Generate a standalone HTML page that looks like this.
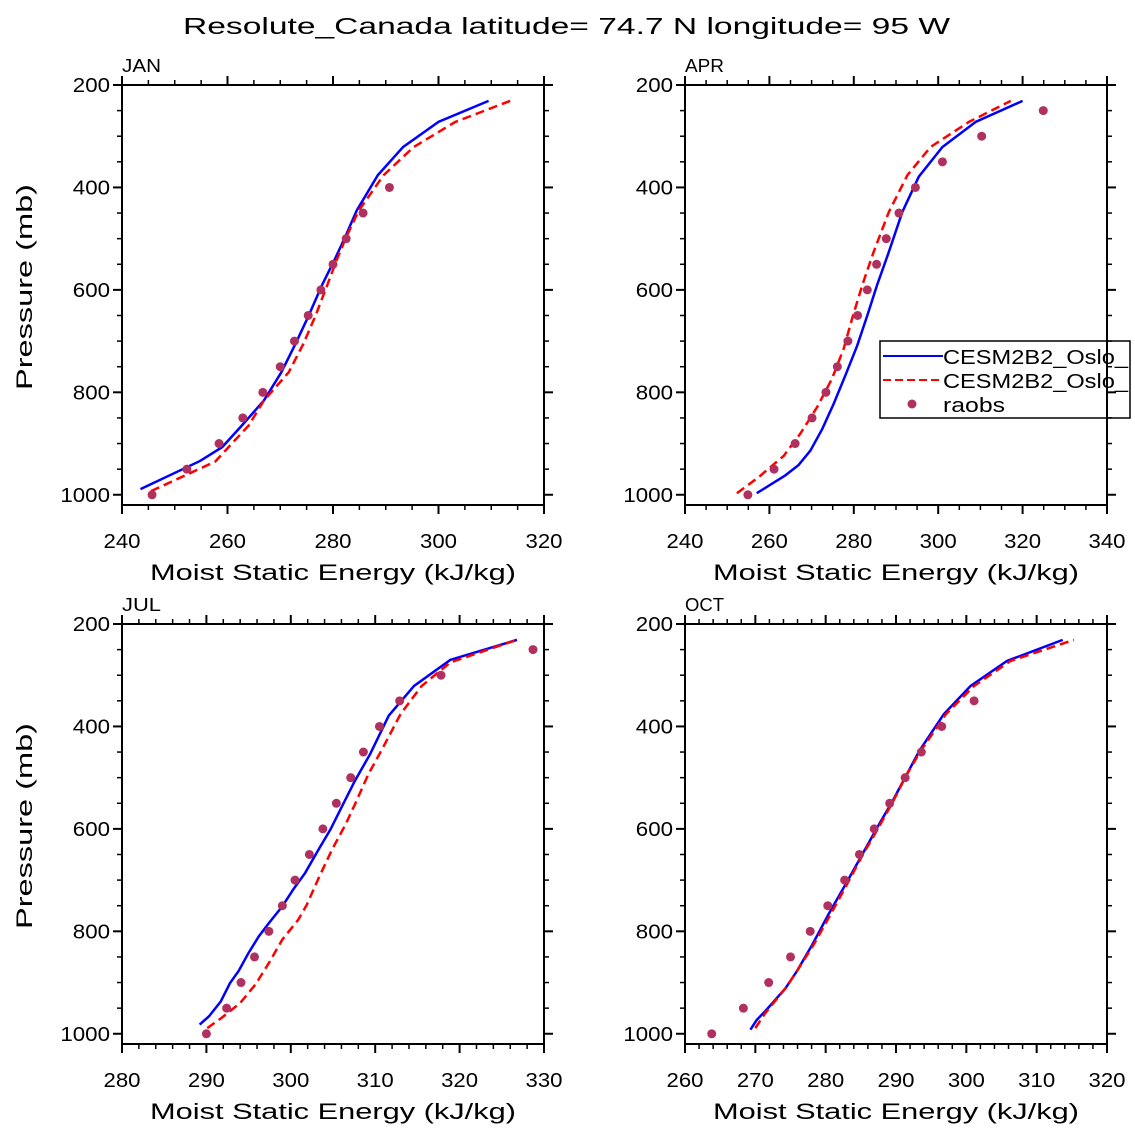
<!DOCTYPE html>
<html><head><meta charset="utf-8"><style>
html,body{margin:0;padding:0;background:#fff;}
svg{display:block;font-family:"Liberation Sans",sans-serif;}
</style></head><body>
<svg id="chart" width="1135" height="1135" viewBox="0 0 1135 1135" xmlns="http://www.w3.org/2000/svg">
<text x="183" y="34" font-size="23" textLength="767" lengthAdjust="spacingAndGlyphs" fill="#000">Resolute_Canada  latitude= 74.7 N longitude= 95 W</text>
</svg>
<script>
const months = ["JAN","APR","JUL","OCT"];
const obsLevels = [1000,950,900,850,800,750,700,650,600,550,500,450,400,350,300,250];
const janObs = [245.7,252.3,258.4,262.9,266.7,270,272.7,275.3,277.7,280,282.5,285.7,290.7];
const aprObs = [254.9,261.1,266.1,270.1,273.4,276.1,278.6,280.9,283.2,285.4,287.7,290.7,294.6,301,310.3,324.9];
const julObs = [290,292.4,294.1,295.7,297.4,299,300.5,302.2,303.8,305.4,307.1,308.6,310.5,312.9,317.8,328.7];
const octObs = [263.8,268.3,271.9,275,277.8,280.3,282.7,284.8,286.9,289.1,291.3,293.6,296.5,301.1];

const janBlueP = [989,934,907,865,816,761,705,650,591,539,497,445,376,321,272,231];
const janBlue = [243.5,254.8,259,262.7,266.9,270.2,272.9,275.4,277.9,280.4,282.3,284.5,288.5,293.3,300,309.5];
const janRedP = [993,935,907,865,816,761,705,650,591,539,497,445,376,321,272,231];
const janRed = [245.5,257.7,260.2,264,266.9,271.6,274.4,276.7,278.9,280.8,282.5,284.9,289.6,295.3,303.2,313.6];

const aprBlueP = [997,962,942,914,872,823,767,709,650,591,526,448,379,321,272,231];
const aprBlue = [257,263.8,266.9,269.7,272.5,275.2,278,280.8,283.2,285.5,288.3,291.5,295.4,301,308.9,320];
const aprRedP = [997,966,924,881,829,774,715,656,591,526,448,376,321,272,231];
const aprRed = [252.3,257.4,263.4,267.3,271.3,274.8,277.6,279.6,282,284.7,288.3,292.7,298.2,307.3,317.2];

const julBlueP = [982,966,937,901,878,842,810,784,751,718,686,640,601,555,506,454,379,321,270,231];
const julBlue = [289.2,290.3,291.7,292.8,293.8,295,296.2,297.4,299,300.3,301.7,303.3,304.7,306.1,307.6,309.4,311.6,314.6,318.9,326.8];
const julRedP = [989,969,940,904,862,816,777,748,696,640,591,552,493,445,376,321,275,231];
const julRed = [290.1,291.8,294,295.8,297.4,299,300.9,301.9,303.3,304.9,306.5,307.6,309.2,310.8,313,315.5,318.9,326.8];

const octBlueP = [992,973,956,911,878,826,767,709,650,598,546,497,448,376,321,272,231];
const octBlue = [269.3,270.2,271.4,274.3,275.9,278.1,280.4,282.8,285.2,287.3,289.5,291.4,293.3,296.8,300.6,305.8,313.7];
const octRedP = [989,960,911,878,826,767,709,650,598,546,497,448,376,321,272,231];
const octRed = [270,271.4,274.3,275.9,278.3,280.7,283,285.3,287.5,289.6,291.4,293.5,297.1,301.1,306.3,315.3];

const xMins = [240,240,280,260];
const xMaxs = [320,340,330,320];
const xMajor = [20,20,10,10];
const xMinor = [5,5,2,2];
const yTicks = [200,400,600,800,1000];

const NS="http://www.w3.org/2000/svg";
const svg=document.getElementById('chart');
function mk(tag,attrs,parent){const e=document.createElementNS(NS,tag);for(const k in attrs)e.setAttribute(k,attrs[k]);(parent||svg).appendChild(e);return e;}

const panels=[
 {x0:122,y0:85,obs:janObs,bP:janBlueP,b:janBlue,rP:janRedP,r:janRed},
 {x0:685,y0:85,obs:aprObs,bP:aprBlueP,b:aprBlue,rP:aprRedP,r:aprRed},
 {x0:122,y0:624,obs:julObs,bP:julBlueP,b:julBlue,rP:julRedP,r:julRed},
 {x0:685,y0:624,obs:octObs,bP:octBlueP,b:octBlue,rP:octRedP,r:octRed}
];
const W=422,H=420,pMin=200,pMax=1020;

panels.forEach((pn,i)=>{
  const g=mk('g',{});
  
  
  const xs=v=>pn.x0+(v-xMins[i])/(xMaxs[i]-xMins[i])*W;
  const ys=p=>pn.y0+(p-pMin)/(pMax-pMin)*H;
  const clipId='clip'+i;
  const cp=mk('clipPath',{id:clipId},g);
  mk('rect',{x:pn.x0,y:pn.y0,width:W,height:H},cp);
  const blue=mk('polyline',{points:pn.b.map((v,k)=>xs(v)+','+ys(pn.bP[k])).join(' '),fill:'none',stroke:'#0000ff','stroke-width':2.5,'clip-path':'url(#'+clipId+')'},g);
  
  
  const red=mk('polyline',{points:pn.r.map((v,k)=>xs(v)+','+ys(pn.rP[k])).join(' '),fill:'none',stroke:'#ff0000','stroke-width':2.5,'stroke-dasharray':'9,5','clip-path':'url(#'+clipId+')'},g);
  
  
  pn.obs.forEach((v,k)=>{
    const c=mk('circle',{cx:xs(v),cy:ys(obsLevels[k]),r:4.5,fill:'#b03060'},g);
    
    
  });
  if(i===1){
    const lg=mk('g',{},g);
    
    
    mk('rect',{x:880,y:341,width:250,height:77,fill:'none',stroke:'#000','stroke-width':1.5},lg);
    mk('line',{x1:883,y1:356,x2:943,y2:356,stroke:'#0000ff','stroke-width':2},lg);
    mk('line',{x1:883,y1:380,x2:943,y2:380,stroke:'#ff0000','stroke-width':2,'stroke-dasharray':'8,4'},lg);
    mk('circle',{cx:912,cy:404,r:4.5,fill:'#b03060'},lg);
    const t1=mk('text',{x:943,y:364,'font-size':20,textLength:185,lengthAdjust:'spacingAndGlyphs'},lg);t1.textContent='CESM2B2_Oslo_';
    
    
    const t2=mk('text',{x:943,y:388,'font-size':20,textLength:185,lengthAdjust:'spacingAndGlyphs'},lg);t2.textContent='CESM2B2_Oslo_';
    
    
    const t3=mk('text',{x:943,y:412,'font-size':20,textLength:62,lengthAdjust:'spacingAndGlyphs'},lg);t3.textContent='raobs';
    
    
  }
  mk('rect',{x:pn.x0,y:pn.y0,width:W,height:H,fill:'none',stroke:'#000','stroke-width':2},g);
  for(let p=200;p<=1000;p+=50){
    const maj=p%200===0, L=maj?9:5, y=ys(p);
    mk('line',{x1:pn.x0-L,y1:y,x2:pn.x0,y2:y,stroke:'#000','stroke-width':maj?2:1.5},g);
    mk('line',{x1:pn.x0+W,y1:y,x2:pn.x0+W+L,y2:y,stroke:'#000','stroke-width':maj?2:1.5},g);
  }
  yTicks.forEach(p=>{
    const s=String(p);
    const t=mk('text',{x:pn.x0-12-s.length*12.4,y:ys(p)+7,'font-size':20,textLength:s.length*12.4,lengthAdjust:'spacingAndGlyphs'},g);t.textContent=s;
    
    
  });
  const n=Math.round((xMaxs[i]-xMins[i])/xMinor[i]);
  for(let k=0;k<=n;k++){
    const v=xMins[i]+k*xMinor[i];
    const maj=Math.abs(v%xMajor[i])<1e-6, L=maj?9:5, x=xs(v);
    mk('line',{x1:x,y1:pn.y0+H,x2:x,y2:pn.y0+H+L,stroke:'#000','stroke-width':maj?2:1.5},g);
    mk('line',{x1:x,y1:pn.y0-L,x2:x,y2:pn.y0,stroke:'#000','stroke-width':maj?2:1.5},g);
    if(maj){
      const t=mk('text',{x:x-18.5,y:pn.y0+H+43,'font-size':20,textLength:37,lengthAdjust:'spacingAndGlyphs'},g);t.textContent=v;
      
      
    }
  }
  const xt=mk('text',{x:pn.x0+28,y:pn.y0+H+75,'font-size':22,textLength:366,lengthAdjust:'spacingAndGlyphs'},g);
  xt.textContent='Moist Static Energy (kJ/kg)';
  
  
  const ml=mk('text',{x:pn.x0,y:pn.y0-13,'font-size':18,textLength:39,lengthAdjust:'spacingAndGlyphs'},g);ml.textContent=months[i];
  
  
  if(i%2===0){
    const cy=pn.y0+H/2-8;
    const yt=mk('text',{x:32-103,y:cy,'font-size':22,textLength:206,lengthAdjust:'spacingAndGlyphs',transform:'rotate(-90 32 '+cy+')'},g);
    yt.setAttribute('x',32-103);
    yt.setAttribute('y',cy);
    yt.textContent='Pressure (mb)';
    
    
  }
});
</script>
</body></html>
